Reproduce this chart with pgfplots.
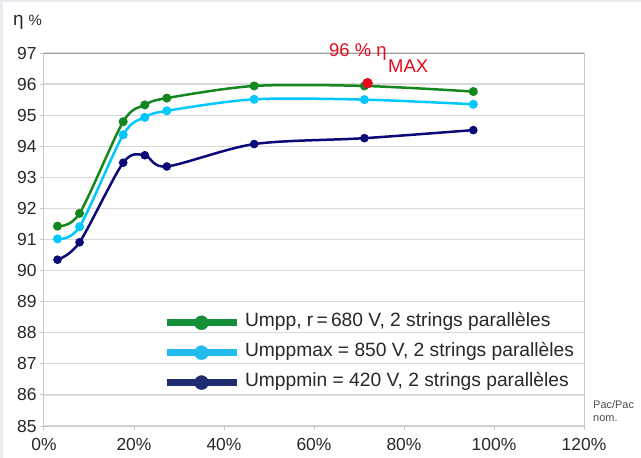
\documentclass[border=0pt]{standalone}
\usepackage{fontspec}
\setmainfont{Liberation Sans}
\usepackage{pgfplots}
\pgfplotsset{compat=1.18}

\definecolor{cgreen}{RGB}{20,135,30}
\definecolor{ccyan}{RGB}{0,200,255}
\definecolor{cnavy}{RGB}{10,10,120}
\definecolor{lgreen}{RGB}{22,143,59}
\definecolor{lcyan}{RGB}{34,187,238}
\definecolor{lnavy}{RGB}{30,43,110}
\definecolor{redmax}{RGB}{230,10,30}
\definecolor{bgframe}{RGB}{233,237,241}
\definecolor{gridgray}{RGB}{217,217,217}
\definecolor{axisgray}{RGB}{200,200,200}
\definecolor{topgray}{RGB}{160,160,160}
\definecolor{labelgray}{RGB}{40,40,40}

\begin{document}
\begin{tikzpicture}
\fill[bgframe] (0bp,0bp) rectangle (641bp,-458bp);
\fill[white] (3bp,-2bp) rectangle (641bp,-458bp);
\useasboundingbox (0bp,0bp) rectangle (641bp,-458bp);

\begin{axis}[
  at={(44bp,-426bp)}, anchor=south west,
  scale only axis, width=540bp, height=373bp,
  xmin=0, xmax=120, ymin=85, ymax=97,
  xtick={0,20,40,60,80,100,120},
  xticklabels={0\%,20\%,40\%,60\%,80\%,100\%,120\%},
  ytick={85,86,...,97},
  xtick pos=left, ytick pos=left,
  tick align=outside, major tick length=4bp,
  ymajorgrids, grid style={color=gridgray, line width=1.2bp},
  axis line style={color=axisgray, line width=1bp},
  tick style={color=axisgray, line width=1bp},
  ticklabel style={font=\fontsize{17.5}{20}\selectfont, text=labelgray},
  xticklabel style={yshift=-5bp},
  /pgf/number format/assume math mode=true,
  legend image code/.code={
    \draw[#1, line width=7bp] (0bp,0bp) -- (70bp,0bp);
    \fill[#1] (35bp,0bp) circle[radius=7bp];
  },
  legend style={draw=none, fill=none, inner sep=0pt, outer sep=0pt,
    at={(rel axis cs:0.2204,0.296)}, anchor=north west,
    row sep=15.5bp, font=\fontsize{19.3}{21}\selectfont, text=labelgray,
    nodes={inner sep=0pt, text height=11bp, text depth=3bp},
    /tikz/every odd column/.append style={column sep=5bp}},
  legend cell align=left,
]
\draw[topgray, line width=1.5bp] (rel axis cs:0,1) -- (rel axis cs:1,1);

\addplot[cgreen, line width=2.5bp, smooth, mark=*, mark size=3.2bp, forget plot]
  coordinates {(3,91.43) (7.9,91.84) (17.6,94.79) (22.4,95.33) (27.3,95.55) (46.7,95.94) (71.2,95.94) (95.4,95.76)};
\addplot[ccyan, line width=2.5bp, smooth, mark=*, mark size=3.2bp, forget plot]
  coordinates {(3,91.02) (7.9,91.41) (17.6,94.37) (22.4,94.93) (27.3,95.14) (46.7,95.51) (71.2,95.50) (95.4,95.35)};
\addplot[cnavy, line width=2.5bp, smooth, mark=*, mark size=3bp, forget plot]
  coordinates {(3,90.35) (7.9,90.91) (17.6,93.47) (22.4,93.71) (27.3,93.35) (46.7,94.07) (71.2,94.26) (95.4,94.52)};
\addplot[redmax, only marks, mark=*, mark size=5bp, forget plot]
  coordinates {(71.9,96.03)};

\addlegendimage{color=lgreen}
\addlegendentry{Umpp, r\,=\,680 V, 2 strings parallèles}
\addlegendimage{color=lcyan}
\addlegendentry{Umppmax = 850 V, 2 strings parallèles}
\addlegendimage{color=lnavy}
\addlegendentry{Umppmin = 420 V, 2 strings parallèles}
\end{axis}

\node[anchor=west, inner sep=0pt, text=labelgray] at (13bp,-22bp)
  {{\fontsize{19}{20}\selectfont η}\hspace{5bp}{\fontsize{15}{16}\selectfont \%}};
\node[anchor=west, inner sep=0pt, text=redmax, font=\fontsize{18.5}{20}\selectfont] at (329bp,-52bp) {96 \% η};
\node[anchor=west, inner sep=0pt, text=redmax, font=\fontsize{18.5}{20}\selectfont] at (388bp,-66bp) {MAX};
\node[anchor=west, inner sep=0pt, text=black!70, font=\fontsize{11}{13}\selectfont] at (593bp,-405bp) {Pac/Pac};
\node[anchor=west, inner sep=0pt, text=black!70, font=\fontsize{11}{13}\selectfont] at (593bp,-419bp) {nom.};
\end{tikzpicture}
\end{document}
